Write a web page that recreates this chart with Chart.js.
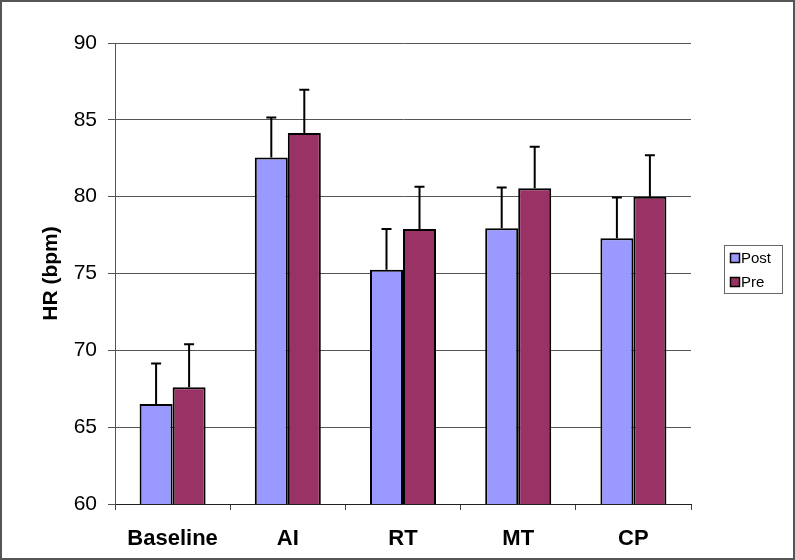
<!DOCTYPE html>
<html>
<head>
<meta charset="utf-8">
<script src="https://cdn.jsdelivr.net/npm/chart.js@4/dist/chart.umd.min.js"></script>
<style>
  html, body { margin: 0; padding: 0; background: #fff; }
  canvas { display: block; }
</style>
</head>
<body>
<canvas id="hrChart" width="795" height="560"></canvas>
<script>
const categories = ['Baseline', 'AI', 'RT', 'MT', 'CP'];
const seriesNames = ['Post', 'Pre'];
const postValues = [66.5, 82.55, 75.25, 77.95, 77.3];
const preValues = [67.6, 84.15, 77.9, 80.55, 80.0];
const postErrors = [2.65, 2.6, 2.65, 2.65, 2.65];
const preErrors = [2.8, 2.8, 2.75, 2.7, 2.7];
const yTicks = [60, 65, 70, 75, 80, 85, 90];

const fontFamily = "'Liberation Sans', Arial, sans-serif";

// upper error bars, drawn through the y scale
const errorBars = {
    id: 'errorBars',
    afterDatasetsDraw(chart) {
        const ctx = chart.ctx;
        const yScale = chart.scales.y;
        ctx.save();
        ctx.strokeStyle = '#000';
        ctx.lineWidth = 2;
        chart.data.datasets.forEach((ds, i) => {
            const meta = chart.getDatasetMeta(i);
            meta.data.forEach((bar, j) => {
                const top = yScale.getPixelForValue(ds.data[j] + ds.errors[j]);
                ctx.beginPath();
                ctx.moveTo(bar.x, bar.y);
                ctx.lineTo(bar.x, top);
                ctx.moveTo(bar.x - 5, top);
                ctx.lineTo(bar.x + 5, top);
                ctx.stroke();
            });
        });
        ctx.restore();
    }
};

// boxed legend on the right, like the spreadsheet original
const boxLegend = {
    id: 'boxLegend',
    afterDraw(chart) {
        const ctx = chart.ctx;
        const x0 = 724, y0 = 245, w = 58, h = 48;
        ctx.save();
        ctx.strokeStyle = '#666';
        ctx.lineWidth = 1;
        ctx.strokeRect(x0 + 0.5, y0 + 0.5, w, h);
        ctx.font = '15px ' + fontFamily;
        ctx.textBaseline = 'middle';
        chart.data.datasets.forEach((ds, i) => {
            const cy = y0 + 13 + i * 24;
            ctx.fillStyle = ds.backgroundColor;
            ctx.fillRect(730, cy - 5, 10, 10);
            ctx.strokeStyle = '#000';
            ctx.lineWidth = 1.5;
            ctx.strokeRect(730.5, cy - 4.5, 9, 9);
            ctx.fillStyle = '#000';
            ctx.fillText(ds.label, 741, cy + 1);
        });
        ctx.restore();
    }
};

const outerBorder = {
    id: 'outerBorder',
    afterDraw(chart) {
        const ctx = chart.ctx;
        ctx.save();
        ctx.strokeStyle = '#555';
        ctx.lineWidth = 2;
        ctx.strokeRect(1, 1, 793, 558);
        ctx.restore();
    }
};

const ctx = document.getElementById('hrChart').getContext('2d');
new Chart(ctx, {
    type: 'bar',
    data: {
        labels: categories,
        datasets: [{
            label: seriesNames[0],
            data: postValues,
            errors: postErrors,
            backgroundColor: '#9999FF',
            borderColor: '#000',
            borderWidth: 2
        }, {
            label: seriesNames[1],
            data: preValues,
            errors: preErrors,
            backgroundColor: '#993366',
            borderColor: '#000',
            borderWidth: 2
        }]
    },
    options: {
        responsive: false,
        animation: false,
        layout: {
            padding: { left: 0, right: 104, top: 43, bottom: 0 }
        },
        datasets: {
            bar: { categoryPercentage: 0.573, barPercentage: 1.0 }
        },
        plugins: {
            legend: { display: false },
            tooltip: { enabled: false }
        },
        scales: {
            x: {
                grid: {
                    drawOnChartArea: false,
                    drawTicks: true,
                    tickLength: 6,
                    color: '#404040'
                },
                border: { color: '#202020', width: 1 },
                ticks: {
                    color: '#000',
                    padding: 16,
                    font: { family: fontFamily, size: 22, weight: 'bold' }
                },
                afterFit(scale) { scale.height = 56; }
            },
            y: {
                min: 60,
                max: 90,
                afterBuildTicks(scale) {
                    scale.ticks = yTicks.map(v => ({ value: v }));
                },
                grid: {
                    color: '#555',
                    tickLength: 7
                },
                border: { color: '#555', width: 1 },
                ticks: {
                    color: '#000',
                    padding: 11,
                    font: { family: fontFamily, size: 21 }
                },
                title: {
                    display: true,
                    text: 'HR (bpm)',
                    color: '#000',
                    padding: { top: 39, bottom: 0 },
                    font: { family: fontFamily, size: 21, weight: 'bold' }
                },
                afterFit(scale) { scale.width = 115; }
            }
        }
    },
    plugins: [errorBars, boxLegend, outerBorder]
});
</script>
</body>
</html>
